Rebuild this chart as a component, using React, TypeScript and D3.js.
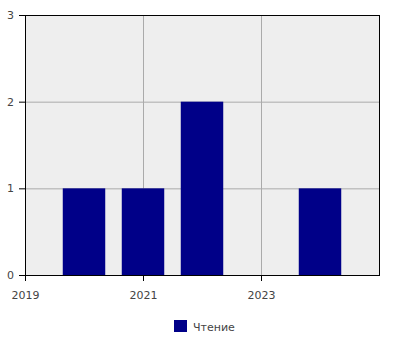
import React from "react";
import * as d3 from "d3";

const years = [2020, 2021, 2022, 2023, 2024];
const values = [1, 1, 2, 0, 1];
const xTicks = [2019, 2021, 2023];
const yTicks = [0, 1, 2, 3];
const seriesName = "Чтение";

export default function App() {
  const W = 400, H = 350;
  const left = 25, right = 379, top = 15, bottom = 275;
  const x = d3.scaleLinear().domain([2019, 2025]).range([left, right]);
  const y = d3.scaleLinear().domain([0, 3]).range([bottom, top]);
  const bw = (x(2020) - x(2019)) * 0.72;
  const font = "DejaVu Sans, sans-serif";
  return (
    <svg width={W} height={H} style={{ position: "absolute", left: 0, top: 0 }}>
      <rect x={left} y={top} width={right - left} height={bottom - top} fill="#eeeeee" />
      {yTicks.slice(1, -1).map((t) => (
        <line key={"gy" + t} x1={left} x2={right} y1={y(t) + 0.5} y2={y(t) + 0.5} stroke="#aaaaaa" />
      ))}
      {xTicks.slice(1).map((t) => (
        <line key={"gx" + t} x1={x(t) + 0.5} x2={x(t) + 0.5} y1={top} y2={bottom} stroke="#aaaaaa" />
      ))}
      {years.map((yr, i) => (
        <rect key={yr} x={x(yr) - bw / 2} y={y(values[i])} width={bw} height={y(0) - y(values[i])} fill="#000088" />
      ))}
      <rect x={left + 0.5} y={top + 0.5} width={right - left} height={bottom - top} fill="none" stroke="#000" />
      {yTicks.map((t) => (
        <g key={"ty" + t}>
          <line x1={left - 6} x2={left} y1={y(t) + 0.5} y2={y(t) + 0.5} stroke="#000" />
          <text x={left - 11} y={y(t) + 4} textAnchor="end" fontSize={11} fontFamily={font} fill="#444">{t}</text>
        </g>
      ))}
      {xTicks.map((t) => (
        <g key={"tx" + t}>
          <line x1={x(t) + 0.5} x2={x(t) + 0.5} y1={bottom} y2={bottom + 6} stroke="#000" />
          <text x={x(t) + 0.5} y={bottom + 24} textAnchor="middle" fontSize={11} fontFamily={font} fill="#444">{t}</text>
        </g>
      ))}
      <rect x={174} y={320} width={13} height={12} fill="#000088" />
      <text x={193} y={330.5} fontSize={11} fontFamily={font} fill="#444">{seriesName}</text>
    </svg>
  );
}
